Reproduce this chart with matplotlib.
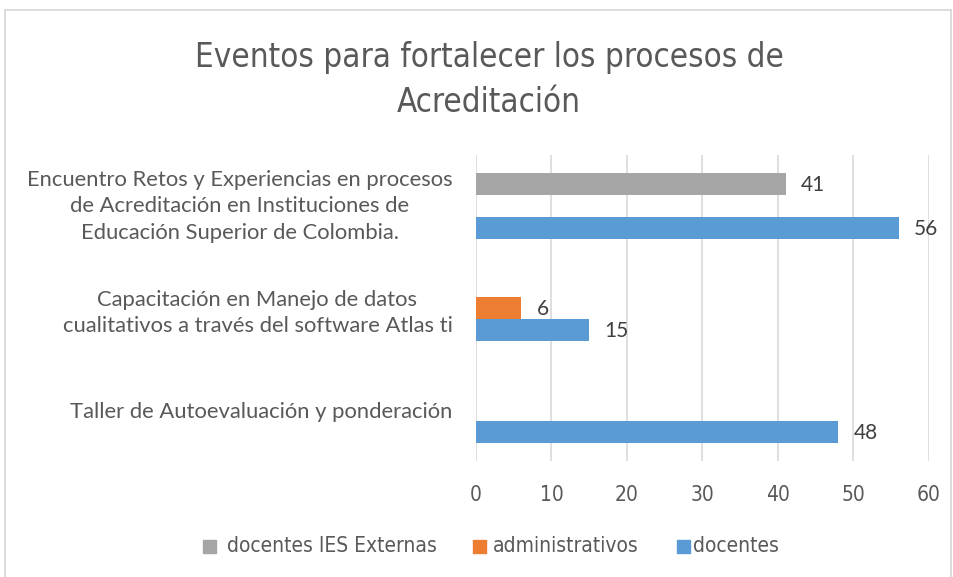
import numpy as np
import matplotlib
matplotlib.use("Agg")
import matplotlib.pyplot as plt
from matplotlib.patches import Rectangle

categories = ["Taller de Autoevaluación y ponderación",
              "Capacitación en Manejo de datos\ncualitativos a través del software Atlas ti",
              "Encuentro Retos y Experiencias en procesos\nde Acreditación en Instituciones de\nEducación Superior de Colombia."]
series = ["docentes", "administrativos", "docentes IES Externas"]
docentes = [48, 15, 56]
administrativos = [None, 6, None]
ies_externas = [None, None, 41]
colors = ["#5B9BD5", "#ED7D31", "#A5A5A5"]
xticks = [0, 10, 20, 30, 40, 50, 60]

normal = ["Lato", "DejaVu Sans"]
cond = dict(family="DejaVu Sans", stretch="condensed")
W, H = 954, 577

fig = plt.figure(figsize=(9.54, 5.77), dpi=100)
ax = fig.add_axes([476 / W, 1 - 461 / H, 453 / W, 306 / H])

y = np.arange(len(categories))
h = 0.216
offsets = [-h, 0, h]
for vals, off, col in zip([docentes, administrativos, ies_externas], offsets, colors):
    for i, v in enumerate(vals):
        if v is None:
            continue
        ax.barh(y[i] + off, v, height=h, color=col, zorder=3)
        ax.annotate(str(v), (v, y[i] + off), xytext=(11, -1), textcoords="offset points",
                    ha="left", va="center", fontsize=15, color="#404040", family=normal)

ax.set_xlim(0, 60)
ax.set_ylim(-0.5, 2.5)
ax.set_xticks(xticks)
ax.set_xticklabels([str(t) for t in xticks], fontsize=15, color="#595959", **cond)
ax.set_yticks(y)
ax.set_yticklabels(categories, family=normal, fontsize=15.8, color="#595959",
                   multialignment="center", linespacing=1.4)
ax.tick_params(axis="both", length=0)
ax.tick_params(axis="y", pad=17)
ax.tick_params(axis="x", pad=17)
ax.grid(axis="x", color="#D9D9D9", linewidth=1.2, zorder=0)
for s in ax.spines.values():
    s.set_visible(False)
# nudge the multi-line labels up a little
for lab in ax.get_yticklabels():
    if lab.get_text().count("\n") == 2:
        lab.set_y(lab.get_position()[1])
        lab.set_transform(lab.get_transform() + matplotlib.transforms.ScaledTranslation(0, 5 / 100, fig.dpi_scale_trans))

fig.text(489 / W, 1 - 80 / H, "Eventos para fortalecer los procesos de\nAcreditación",
         ha="center", va="center", fontsize=23.8, color="#595959", linespacing=1.45, **cond)

# legend, drawn by hand to keep Excel's spacing
leg_sq = [203, 473, 677]
leg_tx = [227, 493, 693]
leg_y = 546
for sx, tx, name, col in zip(leg_sq, leg_tx, [series[2], series[1], series[0]],
                             [colors[2], colors[1], colors[0]]):
    fig.patches.append(Rectangle((sx / W, 1 - (leg_y + 6.5) / H), 13 / W, 13 / H,
                                 transform=fig.transFigure, color=col))
    fig.text(tx / W, 1 - leg_y / H, name, ha="left", va="center", fontsize=15,
             color="#595959", **cond)

fig.patches.append(Rectangle((5 / W, -0.01), 946 / W, 1 - 10 / H + 0.01, transform=fig.transFigure,
                             fill=False, edgecolor="#D9D9D9", linewidth=1.3))

fig.savefig("out.png", dpi=100)
